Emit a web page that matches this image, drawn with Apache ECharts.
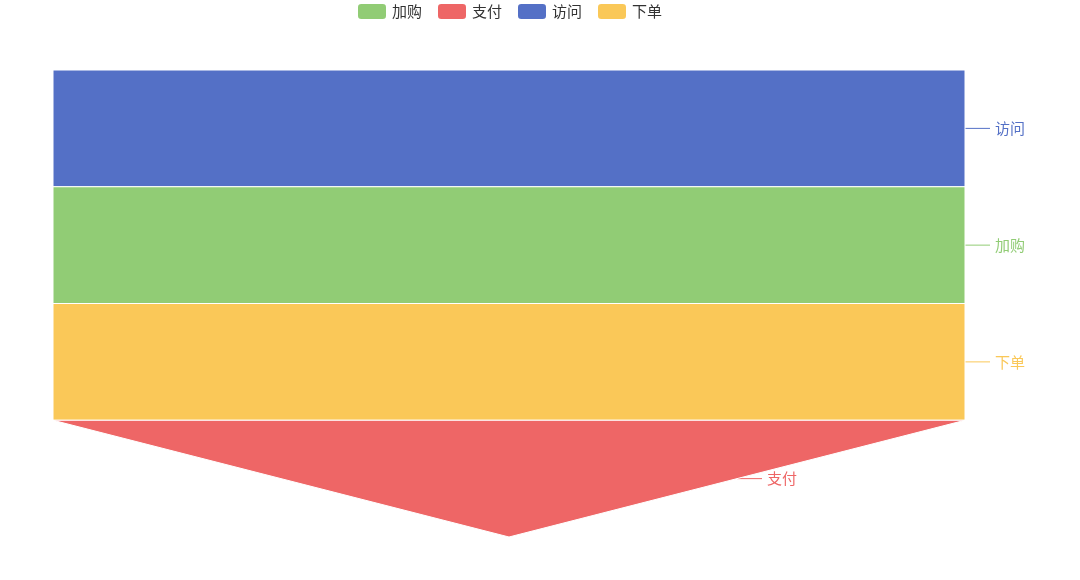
<!DOCTYPE html>
<html>
<head>
<meta charset="utf-8">
<script src="https://cdn.jsdelivr.net/npm/echarts@6/dist/echarts.min.js"></script>
<style>
	html, body { margin: 0; padding: 0; background: #fff; }
	#funnel_data { width: 1080px; height: 580px; }
</style>
</head>
<body>
<div id="funnel_data"></div>
<script>
// stage names in drawing order, and the legend's own order
const stages = ['访问', '加购', '下单', '支付'];
const legendOrder = ['加购', '支付', '访问', '下单'];
// every stage reaches the full width in the picture
const stageValues = [100, 100, 100, 100];

const chartDom = document.getElementById('funnel_data');
const myChart = echarts.init(chartDom);

let option = {
	color: ['#5470c6', '#91cc75', '#fac858', '#ee6666'],
	textStyle: {fontFamily: '"Noto Sans CJK SC", sans-serif'},
	legend: {
		left: 351,
		top: 0,
		padding: [2, 5],
		itemWidth: 30,
		itemHeight: 17,
		itemGap: 14,
		textStyle: {fontSize: 15, color: '#333'},
		data: legendOrder
	},
	series: [
		{
			name: '转化',
			type: 'funnel',
			left: 53,
			top: 70,
			width: 912,
			height: 467,
			min: 0,
			max: 100,
			sort: 'none',
			gap: 0,
			label: {show: true, position: 'right', fontSize: 15, color: 'inherit', distance: 8},
			labelLine: {length: 25},
			itemStyle: {borderColor: '#fff', borderWidth: 1},
			data: stages.map((name, i) => ({name: name, value: stageValues[i]}))
		}
	]
};

option && myChart.setOption(option);
</script>
</body>
</html>
